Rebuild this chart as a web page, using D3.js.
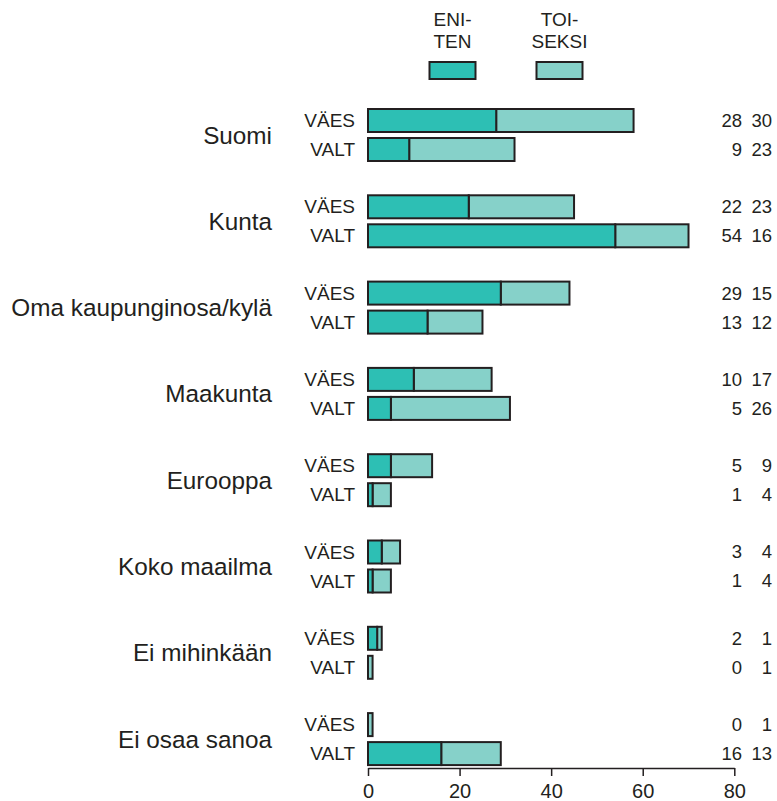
<!DOCTYPE html>
<html>

<head>
    <meta http-equiv="Content-Type" content="text/html;charset=utf-8" />
    <style>
        body {
            margin: 0;
            background: #fff;
        }

        svg text {
            font-family: "Liberation Sans", Arial, sans-serif;
            fill: #231f20;
        }

        .bar {
            stroke: #231f20;
            stroke-width: 2px;
        }

        .axis path,
        .axis line {
            stroke: #231f20;
            stroke-width: 1.5px;
        }
    </style>
</head>

<body>
    <svg width="777" height="801"></svg>

    <script src="https://cdn.jsdelivr.net/npm/d3@7"></script>
    <script>
        // data
        var categories = ["Suomi", "Kunta", "Oma kaupunginosa/kylä", "Maakunta",
            "Eurooppa", "Koko maailma", "Ei mihinkään", "Ei osaa sanoa"];
        var groups = ["VÄES", "VALT"];
        var enitenVaes = [28, 22, 29, 10, 5, 3, 2, 0];
        var toiseksiVaes = [30, 23, 15, 17, 9, 4, 1, 1];
        var enitenValt = [9, 54, 13, 5, 1, 1, 0, 16];
        var toiseksiValt = [23, 16, 12, 26, 4, 4, 1, 13];
        var legendLabels = [["ENI-", "TEN"], ["TOI-", "SEKSI"]];
        var xTicks = [0, 20, 40, 60, 80];

        var colors = ["#2dbfb4", "#86d1c9"];

        var rows = [];
        categories.forEach(function (c, i) {
            rows.push({ cat: c, grp: "VÄES", a: enitenVaes[i], b: toiseksiVaes[i] });
            rows.push({ cat: c, grp: "VALT", a: enitenValt[i], b: toiseksiValt[i] });
        });

        var svg = d3.select("svg");

        var x = d3.scaleLinear().domain([0, 80]).range([368, 734.3]);

        var y0 = d3.scaleBand()
            .domain(categories)
            .range([109, 109 + 86.3 * categories.length]);

        var y1 = d3.scaleBand()
            .domain(groups)
            .range([0, 52])
            .paddingInner(0.207);

        // category labels
        svg.append("g").selectAll("text")
            .data(categories)
            .enter().append("text")
            .attr("x", 272)
            .attr("y", function (d) { return y0(d) + 26; })
            .attr("dy", "0.35em")
            .attr("text-anchor", "end")
            .style("font-size", "24.3px")
            .text(function (d) { return d; });

        var row = svg.append("g").selectAll("g")
            .data(rows)
            .enter().append("g")
            .attr("transform", function (d) {
                return "translate(0," + (y0(d.cat) + y1(d.grp)) + ")";
            });

        row.append("text")
            .attr("x", 355)
            .attr("y", y1.bandwidth() / 2)
            .attr("dy", "0.35em")
            .attr("text-anchor", "end")
            .style("font-size", "19px")
            .text(function (d) { return d.grp; });

        // second segment first so the outline of the first sits on top
        row.append("rect")
            .attr("class", "bar")
            .attr("x", function (d) { return x(d.a); })
            .attr("width", function (d) { return x(d.a + d.b) - x(d.a); })
            .attr("height", y1.bandwidth())
            .attr("fill", colors[1]);

        row.append("rect")
            .attr("class", "bar")
            .attr("x", x(0))
            .attr("width", function (d) { return x(d.a) - x(0); })
            .attr("height", y1.bandwidth())
            .attr("fill", colors[0]);

        row.append("text")
            .attr("x", 742)
            .attr("y", y1.bandwidth() / 2)
            .attr("dy", "0.35em")
            .attr("text-anchor", "end")
            .style("font-size", "18.5px")
            .text(function (d) { return d.a; });

        row.append("text")
            .attr("x", 772)
            .attr("y", y1.bandwidth() / 2)
            .attr("dy", "0.35em")
            .attr("text-anchor", "end")
            .style("font-size", "18.5px")
            .text(function (d) { return d.b; });

        // axis
        var axis = svg.append("g")
            .attr("class", "axis")
            .attr("transform", "translate(0,768)")
            .call(d3.axisBottom(x).tickValues(xTicks).tickSize(8).tickSizeOuter(0).tickPadding(8));
        axis.attr("font-family", null).attr("font-size", null);
        axis.selectAll("text")
            .style("font-size", "20px")
            .style("fill", "#231f20");

        // legend
        var legendX = [452.5, 559.5];
        var legend = svg.append("g").selectAll("g")
            .data(legendLabels)
            .enter().append("g")
            .attr("transform", function (d, i) { return "translate(" + legendX[i] + ",0)"; });

        legend.append("text")
            .attr("text-anchor", "middle")
            .style("font-size", "19px")
            .selectAll("tspan")
            .data(function (d) { return d; })
            .enter().append("tspan")
            .attr("x", 0)
            .attr("y", function (d, i) { return 26 + i * 22; })
            .text(function (d) { return d; });

        legend.append("rect")
            .attr("class", "bar")
            .attr("x", -23)
            .attr("y", 62)
            .attr("width", 46)
            .attr("height", 17)
            .attr("fill", function (d, i) { return colors[i]; });
    </script>

</body>

</html>
